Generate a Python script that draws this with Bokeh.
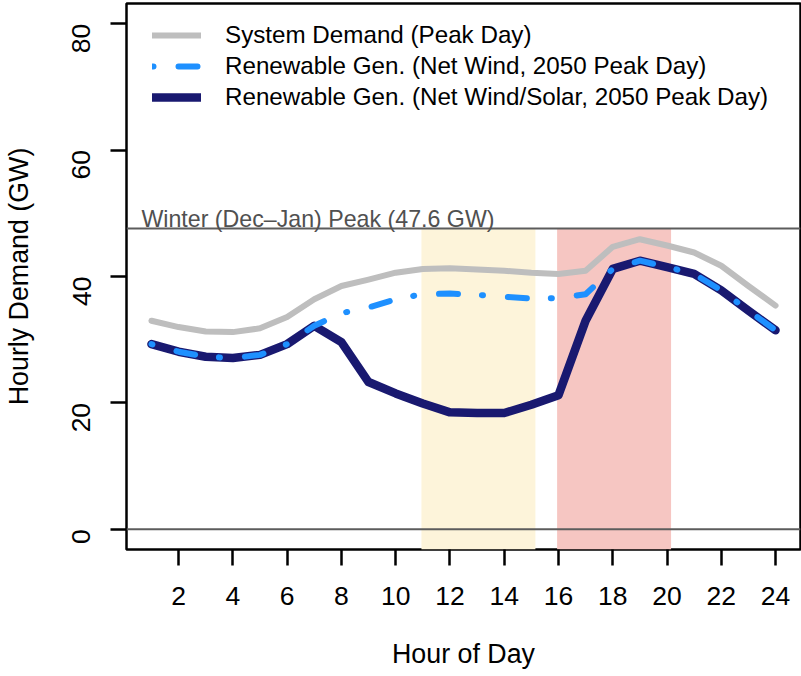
import math

from bokeh.embed import file_html
from bokeh.models import FixedTicker, Label, Legend, LegendItem, Range1d, Span
from bokeh.plotting import figure
from bokeh.resources import INLINE

# Hourly profiles (GW) for the winter peak day
hours = list(range(1, 25))
system_demand = [33.0, 32.0, 31.3, 31.2, 31.8, 33.6, 36.4, 38.5, 39.5, 40.6, 41.2, 41.3,
                 41.1, 40.9, 40.6, 40.4, 40.9, 44.7, 45.9, 44.9, 43.8, 41.7, 38.5, 35.4]
net_wind = [29.3, 28.1, 27.3, 27.1, 27.6, 29.3, 32.2, 34.2, 35.1, 36.4, 37.2, 37.3,
            37.1, 36.8, 36.5, 36.6, 37.2, 41.2, 42.5, 41.5, 40.4, 37.8, 34.6, 31.5]
net_wind_solar = [29.3, 28.1, 27.3, 27.1, 27.6, 29.3, 32.2, 29.6, 23.3, 21.5, 19.9, 18.5,
                  18.4, 18.4, 19.7, 21.2, 33.0, 41.2, 42.5, 41.5, 40.4, 37.8, 34.6, 31.5]

winter_peak = 47.6
solar_window = (10.95, 15.15)
evening_window = (15.95, 20.15)

x_ticks = list(range(2, 25, 2))
y_ticks = [0, 20, 40, 60, 80]

series_labels = [
    "System Demand (Peak Day)",
    "Renewable Gen. (Net Wind, 2050 Peak Day)",
    "Renewable Gen. (Net Wind/Solar, 2050 Peak Day)",
]
x_title = "Hour of Day"
y_title = "Hourly Demand (GW)"

FONT = "Liberation Sans"

x_pad = (max(hours) - min(hours)) * 0.04
y_pad = (max(y_ticks) - min(y_ticks)) * 0.04
y_lo, y_hi = min(y_ticks) - y_pad, max(y_ticks) + y_pad

p = figure(
    width=801, height=676,
    x_range=Range1d(min(hours) - x_pad, max(hours) + x_pad),
    y_range=Range1d(y_lo, y_hi),
    output_backend="svg", toolbar_location=None,
    min_border_left=126, min_border_right=1, min_border_top=3, min_border_bottom=127,
)
p.grid.visible = False
p.background_fill_color = "white"
p.border_fill_color = "white"
p.outline_line_color = "black"
p.outline_line_width = 2.5

# shaded windows: midday solar and evening peak
p.quad(left=[solar_window[0], evening_window[0]],
       right=[solar_window[1], evening_window[1]],
       bottom=[y_lo, y_lo], top=[winter_peak, winter_peak],
       fill_color=["#FDF4DA", "#F6C6C2"], line_color=None)

for level in (0, winter_peak):
    p.add_layout(Span(location=level, dimension="width",
                      line_color="#5c5c5c", line_width=2))

p.add_layout(Label(x=0.63, y=winter_peak, y_offset=9,
                   text=f"Winter (Dec\u2013Jan) Peak ({winter_peak} GW)",
                   text_font=FONT, text_font_size="23.2px", text_color="#505050",
                   text_baseline="alphabetic"))

gray = p.line(hours, system_demand, line_color="#BEBEBE", line_width=6,
              line_cap="round", line_join="round")
navy = p.line(hours, net_wind_solar, line_color="#191970", line_width=8.5,
              line_cap="round", line_join="round")
blue = p.line(hours, net_wind, line_color="#1E90FF", line_width=6,
              line_dash="1 25 19 24", line_cap="round", line_join="round")

legend = Legend(
    items=[LegendItem(label=series_labels[0], renderers=[gray]),
           LegendItem(label=series_labels[1], renderers=[blue]),
           LegendItem(label=series_labels[2], renderers=[navy])],
    location=(26, 438),
    label_text_font=FONT, label_text_font_size="24.2px", label_text_color="black",
    glyph_width=49, glyph_height=28, label_height=28, label_standoff=24,
    spacing=3, padding=0, margin=0,
    border_line_alpha=0, background_fill_alpha=0,
)
p.add_layout(legend)

for ax in (p.xaxis[0], p.yaxis[0]):
    ax.axis_line_color = None
    ax.major_tick_line_color = "black"
    ax.major_tick_line_width = 2.5
    ax.major_tick_out = 16
    ax.major_tick_in = 0
    ax.minor_tick_line_color = None
    ax.major_label_text_font = FONT
    ax.major_label_text_font_size = "26.5px"
    ax.major_label_text_color = "black"
    ax.axis_label_text_font = FONT
    ax.axis_label_text_font_size = "26.8px"
    ax.axis_label_text_font_style = "normal"
    ax.axis_label_text_color = "black"

p.xaxis.ticker = FixedTicker(ticks=x_ticks)
p.xaxis.axis_label = x_title
p.xaxis.major_label_standoff = 21
p.xaxis.axis_label_standoff = 31

p.yaxis.ticker = FixedTicker(ticks=y_ticks)
p.yaxis.axis_label = y_title
p.yaxis.major_label_orientation = math.pi / 2
p.yaxis.major_label_standoff = 29
p.yaxis.axis_label_standoff = 27

open("out.html", "w").write(file_html(p, INLINE))
